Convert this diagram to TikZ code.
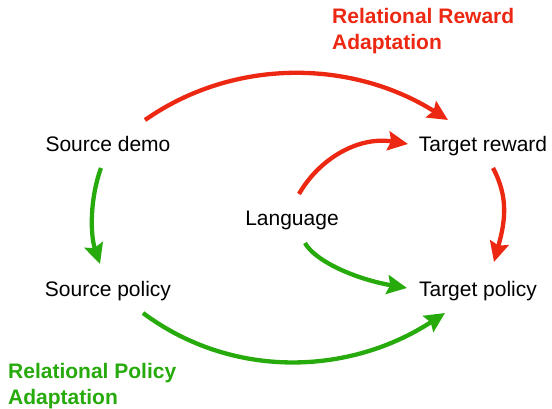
\documentclass[tikz,border=0pt]{standalone}
\usepackage{fontspec}
\setmainfont{Liberation Sans}
\usepackage{tikz}
\usetikzlibrary{arrows.meta}
\usepackage{xcolor}
\definecolor{relred}{RGB}{236,40,18}
\definecolor{relgreen}{RGB}{38,170,12}

\tikzset{
  stage/.style={anchor=base,inner sep=0pt,font=\fontsize{21}{25.5}\selectfont},
  caption/.style={anchor=north west,inner sep=0pt,align=left,
    font=\fontsize{21}{25.5}\selectfont\bfseries},
  redarrow/.style={relred,line width=4.3pt,-{Stealth[length=20pt,width=19pt,inset=3pt]}},
  greenarrow/.style={relgreen,line width=4.3pt,-{Stealth[length=20pt,width=19pt,inset=3pt]}}
}

\begin{document}
\begin{tikzpicture}[x=1pt,y=1pt]
  % --- canvas ---
  \useasboundingbox (0,0) rectangle (552,409);

  % --- stages ---
  \node[stage] (demo)   at (108,257) {Source demo};
  \node[stage] (srcpol) at (108,112) {Source policy};
  \node[stage] (lang)   at (292,183) {Language};
  \node[stage] (tgtrew) at (483,257) {Target reward};
  \node[stage] (tgtpol) at (478,112) {Target policy};

  % --- captions ---
  \node[caption,text=relred]   (relrew) at (332,400.5) {Relational Reward\\Adaptation};
  \node[caption,text=relgreen] (relpol) at (8,45.5)    {Relational Policy\\Adaptation};

  % --- reward adaptation (red) ---
  \draw[redarrow] ([shift={(37,32)}]demo.base)
    .. controls +(90,63) and +(-95,60) .. ([shift={(-35,32)}]tgtrew.base);
  \draw[redarrow] ([shift={(7,32)}]lang.base)
    .. controls +(20,35) and +(-50,8) .. ([shift={(-75,8)}]tgtrew.base);
  \draw[redarrow] ([shift={(10,-16)}]tgtrew.base)
    .. controls +(16,-30) and +(11,40) .. ([shift={(16,35)}]tgtpol.base);

  % --- policy adaptation (green) ---
  \draw[greenarrow] ([shift={(-7,-16)}]demo.base)
    .. controls +(-11,-30) and +(-10,30) .. ([shift={(-8,33)}]srcpol.base);
  \draw[greenarrow] ([shift={(13,-17)}]lang.base)
    .. controls +(10,-18) and +(-52,9) .. ([shift={(-71,9)}]tgtpol.base);
  \draw[greenarrow] ([shift={(35,-16)}]srcpol.base)
    .. controls +(90,-67) and +(-95,-62) .. ([shift={(-33,-16)}]tgtpol.base);

\end{tikzpicture}
\end{document}
